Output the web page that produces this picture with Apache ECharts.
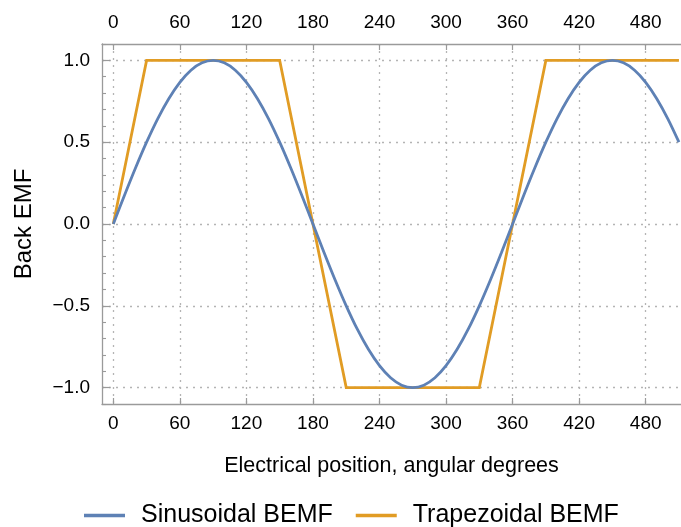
<!DOCTYPE html>
<html>
<head>
<meta charset="utf-8">
<script src="https://cdn.jsdelivr.net/npm/echarts@6/dist/echarts.min.js"></script>
<style>
html,body{margin:0;padding:0;background:#fff;}
#chart{width:681px;height:527px;}
</style>
</head>
<body>
<div id="chart"></div>
<script>
// Angular positions (degrees) for the sinusoidal curve
const sinAngles = [0,10,20,30,40,50,60,70,80,90,100,110,120,130,140,150,160,170,180,190,200,210,220,230,240,250,260,270,280,290,300,310,320,330,340,350,360,370,380,390,400,410,420,430,440,450,460,470,480,490,500,510];
const sinValues = [0,0.174,0.342,0.5,0.643,0.766,0.866,0.94,0.985,1,0.985,0.94,0.866,0.766,0.643,0.5,0.342,0.174,0,-0.174,-0.342,-0.5,-0.643,-0.766,-0.866,-0.94,-0.985,-1,-0.985,-0.94,-0.866,-0.766,-0.643,-0.5,-0.342,-0.174,0,0.174,0.342,0.5,0.643,0.766,0.866,0.94,0.985,1,0.985,0.94,0.866,0.766,0.643,0.5];
// Trapezoidal corner points
const trapAngles = [0,30,150,210,330,390,510];
const trapValues = [0,1,1,-1,-1,1,1];
// Tick labels
const xTicks = [0,60,120,180,240,300,360,420,480];
const yTicks = [-1,-0.5,0,0.5,1];
const seriesNames = ['Sinusoidal BEMF','Trapezoidal BEMF'];
const xTitle = 'Electrical position, angular degrees';
const yTitle = 'Back EMF';

const FONT = 'Liberation Sans, Arial, sans-serif';
const AX = '#9a9a9a';
const GRID = '#b4b4b4';

const chart = echarts.init(document.getElementById('chart'), null, {renderer:'canvas'});
const pair = (xs, ys) => xs.map((x,i)=>[x, ys[i]]);
const fmtY = v => { const s = Number(v).toFixed(1); return s.replace('-', '\u2212'); };

const option = {
  animation:false,
  backgroundColor:'#fff',
  grid:{left:102, right:0, top:44, bottom:123, containLabel:false},
  legend:{
    left:79, top:498,
    itemWidth:41, itemHeight:3.5, itemGap:23,
    icon:'rect',
    textStyle:{fontFamily:FONT, fontSize:25, color:'#000', padding:[0,0,0,11]},
    data:seriesNames
  },
  xAxis:[{
    type:'value', position:'bottom', min:-10.2, max:511.85,
    name:xTitle, nameLocation:'middle', nameGap:51,
    nameTextStyle:{fontFamily:FONT, fontSize:21.5, color:'#000'},
    axisLine:{show:true, onZero:false, lineStyle:{color:AX, width:1.3}},
    axisTick:{show:true, inside:true, length:6, customValues:xTicks, lineStyle:{color:AX, width:1.2}},
    axisLabel:{show:true, customValues:xTicks, margin:10, fontFamily:FONT, fontSize:19, color:'#000'},
    splitLine:{show:true, lineStyle:{color:GRID, type:[2,5], width:1.3}}
  },{
    type:'value', position:'top', min:-10.2, max:511.85,
    axisLine:{show:true, onZero:false, lineStyle:{color:AX, width:1.3}},
    axisTick:{show:true, inside:true, length:6, customValues:xTicks, lineStyle:{color:AX, width:1.2}},
    axisLabel:{show:true, customValues:xTicks, margin:12, fontFamily:FONT, fontSize:19, color:'#000'},
    splitLine:{show:false}
  }],
  yAxis:[{
    type:'value', position:'left', min:-1.1, max:1.1,
    name:yTitle, nameLocation:'middle', nameGap:66, nameRotate:90,
    nameTextStyle:{fontFamily:FONT, fontSize:24, color:'#000'},
    axisLine:{show:true, onZero:false, lineStyle:{color:AX, width:1.3}},
    axisTick:{show:true, inside:true, length:8, customValues:yTicks, lineStyle:{color:AX, width:1.2}},
    axisLabel:{show:true, customValues:yTicks, margin:12, fontFamily:FONT, fontSize:19, color:'#000', formatter:fmtY},
    splitLine:{show:true, lineStyle:{color:GRID, type:[2,5], width:1.3}}
  },{
    type:'value', position:'left', min:-1.1, max:1.1, interval:0.1,
    axisLine:{show:false, onZero:false},
    axisTick:{show:true, inside:true, length:4, lineStyle:{color:AX, width:1.1}},
    axisLabel:{show:false},
    splitLine:{show:false}
  }],
  series:[{
    name:seriesNames[0], type:'line', xAxisIndex:0, yAxisIndex:0,
    data:pair(sinAngles, sinValues), smooth:0.3, showSymbol:false, symbol:'none',
    lineStyle:{color:'#5E81B5', width:2.8}, itemStyle:{color:'#5E81B5'}, z:3
  },{
    name:seriesNames[1], type:'line', xAxisIndex:0, yAxisIndex:0,
    data:pair(trapAngles, trapValues), showSymbol:false, symbol:'none',
    lineStyle:{color:'#E19C24', width:2.8, join:'miter'}, itemStyle:{color:'#E19C24'}, z:2
  }]
};
chart.setOption(option);
</script>
</body>
</html>
